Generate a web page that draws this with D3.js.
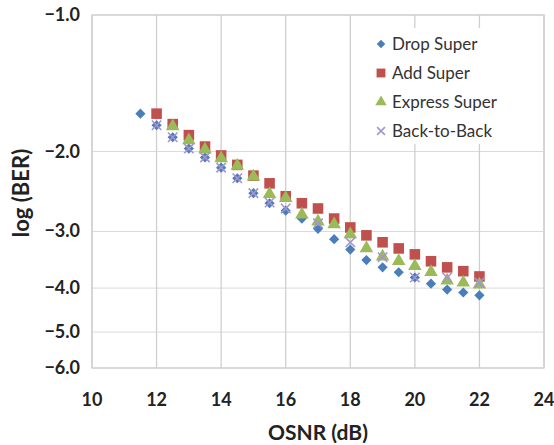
<!DOCTYPE html>
<html><head><meta charset="utf-8">
<script src="https://cdn.jsdelivr.net/npm/d3@7"></script>
<style>body{margin:0;background:#fff}svg{display:block}text{font-family:Lato,"Open Sans",sans-serif}</style>
</head><body><svg id="c" width="554" height="445"></svg>
<script>
const xTicks=[10,12,14,16,18,20,22,24];
const yTicks=[-1,-2,-3,-4,-5,-6];
const dropX=[11.5,12,12.5,13,13.5,14,14.5,15,15.5,16,16.5,17,17.5,18,18.5,19,19.5,20,20.5,21,21.5,22];
const dropY=[-1.65,-1.75,-1.86,-1.97,-2.06,-2.17,-2.29,-2.47,-2.60,-2.70,-2.81,-2.96,-3.12,-3.29,-3.47,-3.60,-3.69,-3.79,-3.91,-4.03,-4.09,-4.15];
const addX=[12,12.5,13,13.5,14,14.5,15,15.5,16,16.5,17,17.5,18,18.5,19,19.5,20,20.5,21,21.5,22];
const addY=[-1.65,-1.74,-1.84,-1.95,-2.04,-2.14,-2.26,-2.35,-2.51,-2.60,-2.67,-2.81,-2.94,-3.06,-3.17,-3.27,-3.37,-3.49,-3.60,-3.67,-3.77];
const expX=[12.5,13,13.5,14,14.5,15,15.5,16,16.5,17,17.5,18,18.5,19,19.5,20,20.5,21,21.5,22];
const expY=[-1.75,-1.88,-1.97,-2.06,-2.14,-2.26,-2.47,-2.52,-2.74,-2.84,-2.88,-3.03,-3.25,-3.39,-3.47,-3.56,-3.67,-3.83,-3.87,-3.91];
const b2bX=[12,12.5,13,13.5,14,14.5,15,15.5,16,17,18,19,20,21,22];
const b2bY=[-1.75,-1.86,-1.97,-2.06,-2.17,-2.29,-2.47,-2.59,-2.67,-2.88,-3.17,-3.42,-3.79,-3.79,-3.89];
const seriesNames=["Drop Super","Add Super","Express Super","Back-to-Back"];
const colors=["#4a7ebb","#c0504d","#9bbb59","#a595cf"];

const svg=d3.select("#c");
const L=92,R=544,T=15,B=368;
const x=d3.scaleLinear().domain([10,24]).range([L,R]);
// y axis is log of -log(BER)
const yl=d3.scaleLog().domain([1,6]).range([T,B]);
const y=v=>yl(-v);

const g=svg.append("g");
g.selectAll(".hg").data(yTicks).join("line").attr("x1",L).attr("x2",R)
 .attr("y1",d=>y(d)).attr("y2",d=>y(d)).attr("stroke","#d9d9d9").attr("stroke-width",1);
g.selectAll(".vg").data(xTicks).join("line").attr("y1",T).attr("y2",B)
 .attr("x1",d=>x(d)).attr("x2",d=>x(d)).attr("stroke","#cfcfcf").attr("stroke-width",1.3);
g.append("rect").attr("x",L).attr("y",T).attr("width",R-L).attr("height",B-T)
 .attr("fill","none").attr("stroke","#cfcfcf").attr("stroke-width",1.3);

g.selectAll(".yt").data(yTicks).join("text").attr("x",80).attr("y",d=>y(d)+6)
 .attr("text-anchor","end").attr("font-size",18).attr("font-weight","bold").attr("fill","#222")
 .text(d=>d3.format(".1f")(d));
g.selectAll(".xt").data(xTicks).join("text").attr("x",d=>x(d)).attr("y",406)
 .attr("text-anchor","middle").attr("font-size",18).attr("font-weight","bold").attr("fill","#222")
 .text(d=>d);
svg.append("text").attr("x",318).attr("y",440).attr("text-anchor","middle")
 .attr("font-size",21).attr("font-weight","bold").attr("fill","#222").text("OSNR (dB)");
svg.append("text").attr("transform","translate(29,193) rotate(-90)").attr("text-anchor","middle")
 .attr("font-size",22).attr("font-weight","bold").attr("fill","#222").text("log (BER)");

const sym=[d3.symbolSquare,d3.symbolSquare,d3.symbolTriangle,d3.symbolX];
const sizes=[52,112,80,60];
const rot=[45,0,0,0];
const data=[[dropX,dropY],[addX,addY],[expX,expY],[b2bX,b2bY]];
function mark(sel,i,size){
  const p=d3.symbol().type(sym[i]).size(size)();
  if(i===3) sel.attr("d",p).attr("fill","none").attr("stroke",colors[i]).attr("stroke-width",1.6);
  else sel.attr("d",p).attr("fill",colors[i]);
}
data.forEach(([xs,ys],i)=>{
  const pts=xs.map((v,k)=>[v,ys[k]]);
  g.append("g").selectAll("path").data(pts).join("path")
   .attr("transform",d=>`translate(${x(d[0])},${y(d[1])+(i===2?1:0)}) rotate(${rot[i]})`)
   .call(s=>mark(s,i,sizes[i]));
});

const lg=svg.append("g");
lg.append("rect").attr("x",362).attr("y",28).attr("width",165).attr("height",116).attr("fill","#fff");
seriesNames.forEach((n,i)=>{
  const yy=44+i*29;
  lg.append("path").attr("transform",`translate(381,${yy}) rotate(${rot[i]})`).call(s=>mark(s,i,sizes[i]*0.7));
  lg.append("text").attr("x",392).attr("y",yy+6).attr("font-size",17).attr("fill","#333").text(n);
});
</script></body></html>
